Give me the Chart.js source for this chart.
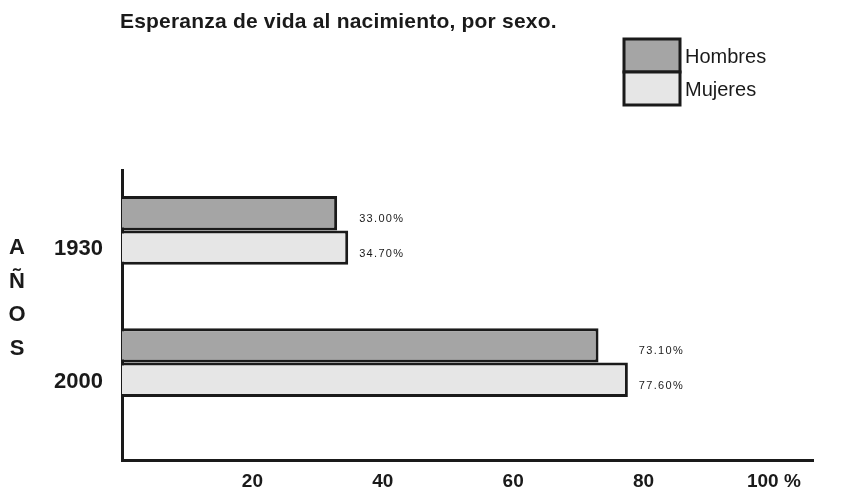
<!DOCTYPE html>
<html>
<head>
<meta charset="utf-8">
<script src="https://cdn.jsdelivr.net/npm/chart.js@4.4.0/dist/chart.umd.min.js"></script>
<style>
  html, body { margin: 0; padding: 0; background: #fff; }
  #wrap { width: 843px; height: 493px; position: relative; }
</style>
</head>
<body>
<div id="wrap"><canvas id="chart"></canvas></div>
<script>
// Datos del gráfico
const years = [1930, 2000];
const hombres = [33.0, 73.1];
const mujeres = [34.7, 77.6];
const seriesNames = ['Hombres', 'Mujeres'];
const xTicks = [20, 40, 60, 80, 100];
const xTickLabels = ['20', '40', '60', '80', '100 %'];
const axisLetters = ['A', 'Ñ', 'O', 'S'];
const titulo = 'Esperanza de vida al nacimiento, por sexo.';

const colorHombres = '#a5a5a5';
const colorMujeres = '#e6e6e6';
const ink = '#1a1a1a';

// Título, leyenda, letras "AÑOS" y etiquetas de valor
const decorPlugin = {
    id: 'decor',
    afterDraw(chart) {
        const ctx = chart.ctx;
        ctx.save();
        ctx.fillStyle = ink;

        // título
        ctx.font = 'bold 21px "Liberation Sans", Arial, sans-serif';
        ctx.letterSpacing = '0.2px';
        ctx.textAlign = 'left';
        ctx.textBaseline = 'middle';
        ctx.fillText(titulo, 120, 22);
        ctx.letterSpacing = '0px';

        // leyenda (cajas apiladas)
        const lx = 624, lw = 56, lh = 33;
        let ly = 39;
        chart.data.datasets.forEach(function(ds) {
            ctx.fillStyle = ds.backgroundColor;
            ctx.fillRect(lx, ly, lw, lh);
            ctx.lineWidth = 3;
            ctx.strokeStyle = ink;
            ctx.strokeRect(lx, ly, lw, lh);
            ctx.fillStyle = ink;
            ctx.font = '20px "Liberation Sans", Arial, sans-serif';
            ctx.textAlign = 'left';
            ctx.fillText(ds.label, lx + lw + 5, ly + lh / 2 + 2);
            ly += lh;
        });

        // letras verticales
        ctx.font = 'bold 22px "Liberation Sans", Arial, sans-serif';
        ctx.textAlign = 'center';
        axisLetters.forEach(function(l, i) {
            ctx.fillText(l, 17, 248 + i * 33.5);
        });

        // etiquetas de valor
        ctx.font = '11px "Liberation Sans", Arial, sans-serif';
        ctx.letterSpacing = '1.3px';
        ctx.textAlign = 'left';
        const metas = chart.data.datasets.map((d, i) => chart.getDatasetMeta(i));
        years.forEach(function(y, idx) {
            const maxX = Math.max.apply(null, metas.map(m => m.data[idx].x));
            metas.forEach(function(m, di) {
                const bar = m.data[idx];
                const v = chart.data.datasets[di].data[idx];
                ctx.fillText(v.toFixed(2) + '%', maxX + 11, bar.y + 6);
            });
        });
        ctx.restore();
    }
};

window.onload = function() {
    window.barChart = new Chart(document.getElementById('chart'), {
        type: 'bar',
        data: {
            labels: years,
            datasets: [
                {
                    label: seriesNames[0],
                    data: hombres,
                    backgroundColor: colorHombres,
                    borderColor: ink,
                    borderWidth: 3
                },
                {
                    label: seriesNames[1],
                    data: mujeres,
                    backgroundColor: colorMujeres,
                    borderColor: ink,
                    borderWidth: 3
                }
            ]
        },
        options: {
            indexAxis: 'y',
            responsive: true,
            maintainAspectRatio: false,
            animation: false,
            categoryPercentage: 0.52,
            barPercentage: 1.0,
            layout: {
                padding: { top: 170, left: 0, right: 30, bottom: 0 }
            },
            plugins: {
                legend: { display: false },
                title: { display: false },
                tooltip: { enabled: false }
            },
            scales: {
                x: {
                    type: 'linear',
                    min: 0,
                    max: 106,
                    grid: { display: false, drawTicks: false },
                    border: { display: true, color: ink, width: 3 },
                    afterBuildTicks: function(scale) {
                        scale.ticks = xTicks.map(v => ({ value: v }));
                    },
                    afterFit: function(scale) {
                        scale.height = 31;
                    },
                    ticks: {
                        padding: 10,
                        color: ink,
                        font: { family: '"Liberation Sans", Arial', size: 19, weight: 'bold' },
                        callback: function(value) {
                            const i = xTicks.indexOf(value);
                            return i >= 0 ? xTickLabels[i] : '';
                        }
                    }
                },
                y: {
                    type: 'linear',
                    reverse: true,
                    offset: false,
                    min: 1898,
                    max: 2052,
                    grid: { display: false, drawTicks: false },
                    border: { display: true, color: ink, width: 3 },
                    afterBuildTicks: function(scale) {
                        scale.ticks = years.map(v => ({ value: v }));
                    },
                    afterFit: function(scale) {
                        scale.width = 122;
                    },
                    ticks: {
                        padding: 19,
                        labelOffset: 19,
                        color: ink,
                        font: { family: '"Liberation Sans", Arial', size: 22, weight: 'bold' },
                        callback: function(value) {
                            return String(value);
                        }
                    }
                }
            }
        },
        plugins: [decorPlugin]
    });
};
</script>
</body>
</html>
